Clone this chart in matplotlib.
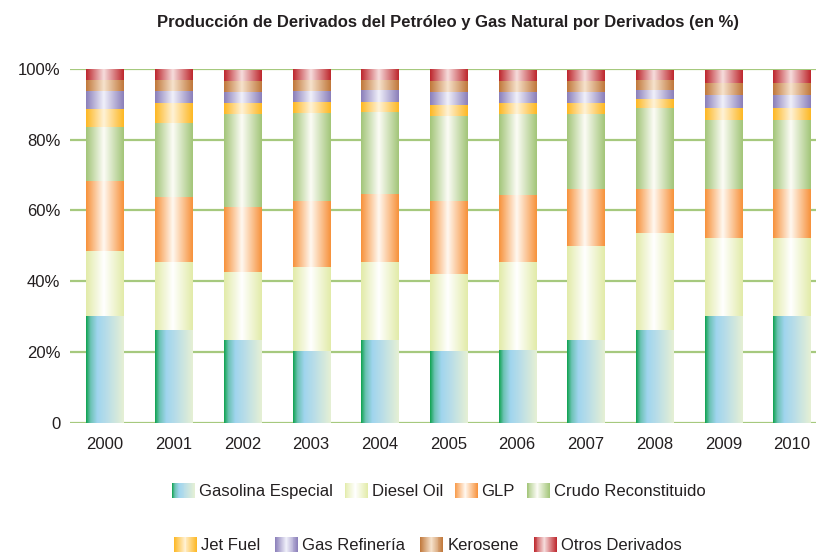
import numpy as np
import matplotlib
matplotlib.use("Agg")
import matplotlib.pyplot as plt
from matplotlib import font_manager
from matplotlib.colors import LinearSegmentedColormap
from matplotlib.legend_handler import HandlerBase
from matplotlib.patches import Rectangle

# Fuente (Arial Narrow -> Liberation Sans Narrow si existe)
disponibles = {f.name for f in font_manager.fontManager.ttflist}
estrecha = "Liberation Sans Narrow" in disponibles
fuente = "Liberation Sans Narrow" if estrecha else "Liberation Sans"
plt.rcParams["font.family"] = [fuente, "DejaVu Sans"]
tam = 14.5 if estrecha else 12

# Datos (en %)
anios = ["2000", "2001", "2002", "2003", "2004", "2005", "2006", "2007", "2008", "2009", "2010"]
gasolina = [30.3, 26.1, 23.3, 20.2, 23.3, 20.2, 20.5, 23.3, 26.1, 30.3, 30.3]
diesel = [18.2, 19.3, 19.2, 23.7, 22.1, 21.8, 24.9, 26.7, 27.6, 21.9, 21.9]
glp = [19.8, 18.4, 18.5, 18.8, 19.3, 20.7, 19.0, 16.1, 12.4, 13.9, 13.9]
crudo = [15.3, 20.9, 26.4, 24.9, 23.1, 24.1, 22.9, 21.2, 23.0, 19.6, 19.6]
jet_fuel = [5.1, 5.7, 3.0, 3.1, 2.9, 3.0, 3.1, 3.1, 2.4, 3.3, 3.3]
gas_refineria = [5.1, 3.4, 3.2, 3.1, 3.4, 3.8, 3.2, 3.2, 2.7, 3.6, 3.6]
kerosene = [3.1, 3.1, 3.0, 3.1, 2.8, 3.0, 3.0, 3.0, 2.7, 3.5, 3.5]
otros = [3.1, 3.1, 3.1, 3.1, 3.1, 3.4, 3.1, 3.1, 2.8, 3.6, 3.6]

series = [
    ("Gasolina Especial", gasolina),
    ("Diesel Oil", diesel),
    ("GLP", glp),
    ("Crudo Reconstituido", crudo),
    ("Jet Fuel", jet_fuel),
    ("Gas Refinería", gas_refineria),
    ("Kerosene", kerosene),
    ("Otros Derivados", otros),
]

# Degradados horizontales de cada serie
degradados = {
    "Gasolina Especial": [(0.0, "#0ea24e"), (0.12, "#6cc3b4"), (0.3, "#a0d5ee"), (0.55, "#b8dde8"), (1.0, "#e6f0d4")],
    "Diesel Oil": [(0.0, "#e2eba8"), (0.47, "#ffffff"), (1.0, "#e2eba8")],
    "GLP": [(0.0, "#f7913a"), (0.47, "#fff8f0"), (1.0, "#f7913a")],
    "Crudo Reconstituido": [(0.0, "#a2c578"), (0.47, "#fcfcf6"), (1.0, "#a2c578")],
    "Jet Fuel": [(0.0, "#fdb722"), (0.47, "#fff2d6"), (1.0, "#fdb722")],
    "Gas Refinería": [(0.0, "#8a7eb9"), (0.47, "#f0f0fa"), (1.0, "#8a7eb9")],
    "Kerosene": [(0.0, "#c0773a"), (0.47, "#f6e2cc"), (1.0, "#c0773a")],
    "Otros Derivados": [(0.0, "#bd262c"), (0.47, "#f6dcdc"), (1.0, "#bd262c")],
}
cmaps = {k: LinearSegmentedColormap.from_list(k, v) for k, v in degradados.items()}
grad = np.linspace(0, 1, 256).reshape(1, -1)


class HandlerDegradado(HandlerBase):
    def create_artists(self, legend, orig_handle, xdescent, ydescent, width, height, fontsize, trans):
        cmap = cmaps[orig_handle.get_label()]
        n = 24
        artistas = []
        for i in range(n):
            r = Rectangle((-xdescent + width * i / n, -ydescent), width / n * 1.05, height,
                          facecolor=cmap((i + 0.5) / n), edgecolor="none", transform=trans)
            artistas.append(r)
        return artistas


fig = plt.figure(figsize=(8.16, 5.55), dpi=100)
ax = fig.add_axes([70 / 816, 1 - 422.7 / 555, 1 - 70 / 816, (422.7 - 69) / 555])

x = np.arange(len(anios))
ancho = 0.54
base = np.zeros(len(anios))
handles = []
for nombre, valores in series:
    barras = ax.bar(x, valores, ancho, bottom=base, color=degradados[nombre][0][1],
                    edgecolor="none", zorder=3)
    for rect in barras:
        x0, y0 = rect.get_x(), rect.get_y()
        im = ax.imshow(grad, cmap=cmaps[nombre], aspect="auto", interpolation="bilinear",
                       extent=(x0, x0 + rect.get_width(), y0, y0 + rect.get_height()),
                       zorder=3.5)
        im.set_clip_path(rect)
    # proxy para la leyenda
    handles.append(Rectangle((0, 0), 1, 1, label=nombre))
    base = base + np.array(valores)

ax.set_xlim(-0.509, 10.35)
ax.set_ylim(0, 100)
ax.set_xticks(x)
ax.set_xticklabels(anios)
ax.set_yticks([0, 20, 40, 60, 80, 100])
ax.set_yticklabels(["0", "20%", "40%", "60%", "80%", "100%"])
ax.tick_params(axis="both", length=0, labelsize=tam, colors="#231f20")
ax.tick_params(axis="x", pad=10)
ax.tick_params(axis="y", pad=7)
for s in ax.spines.values():
    s.set_visible(False)
ax.yaxis.grid(True, color="#a6c97e", linewidth=1.6, zorder=0)
ax.set_axisbelow(True)

fig.text(448 / 816, 1 - 22 / 555, "Producción de Derivados del Petróleo y Gas Natural por Derivados (en %)",
         ha="center", va="center", fontsize=tam * 1.0, fontweight="bold", color="#231f20")

px = tam * 100 / 72
leg_kw = dict(frameon=False, fontsize=tam, handlelength=23 / px, handleheight=16 / px,
              handletextpad=4 / px, borderpad=0, borderaxespad=0, loc="center left",
              handler_map={Rectangle: HandlerDegradado()}, labelcolor="#231f20")
fig.legend(handles[:4], [s[0] for s in series[:4]], ncol=4, columnspacing=11.7 / px,
           bbox_to_anchor=(172 / 816, 1 - 491 / 555), **leg_kw)
fig.legend(handles[4:], [s[0] for s in series[4:]], ncol=4, columnspacing=15 / px,
           bbox_to_anchor=(174 / 816, 1 - 545 / 555), **leg_kw)

fig.savefig("out.png", dpi=100)
